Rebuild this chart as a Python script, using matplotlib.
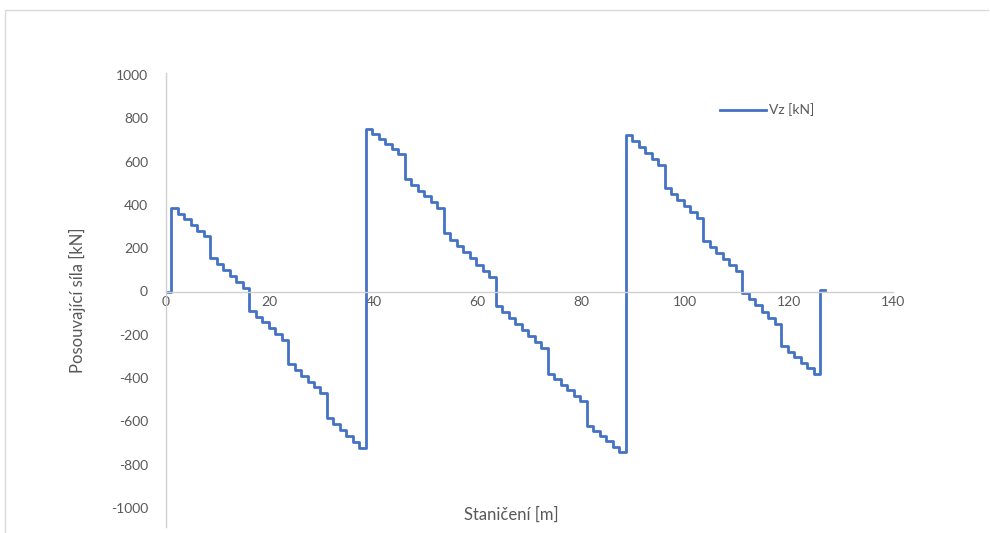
import numpy as np
from matplotlib import pyplot as plt
from matplotlib.lines import Line2D

plt.rcParams['font.family'] = ['Lato', 'DejaVu Sans']
plt.rcParams['axes.unicode_minus'] = False

# stanice [m] a posouvajici sila [kN] (hodnota plati od stanice do dalsi stanice)
stanice = [
    0.0,
    1.0, 2.25, 3.5, 4.75, 6.0, 7.25,
    8.5, 9.75, 11.0, 12.25, 13.5, 14.75,
    16.0, 17.25, 18.5, 19.75, 21.0, 22.25,
    23.5, 24.75, 26.0, 27.25, 28.5, 29.75,
    31.0, 32.25, 33.5, 34.75, 36.0, 37.25,
    38.5, 39.75, 41.0, 42.25, 43.5, 44.75,
    46.0, 47.25, 48.5, 49.75, 51.0, 52.25,
    53.5, 54.75, 56.0, 57.25, 58.5, 59.75, 61.0, 62.25,
    63.5, 64.75, 66.0, 67.25, 68.5, 69.75, 71.0, 72.25,
    73.5, 74.75, 76.0, 77.25, 78.5, 79.75,
    81.0, 82.25, 83.5, 84.75, 86.0, 87.25,
    88.5, 89.75, 91.0, 92.25, 93.5, 94.75,
    96.0, 97.25, 98.5, 99.75, 101.0, 102.25,
    103.5, 104.75, 106.0, 107.25, 108.5, 109.75,
    111.0, 112.25, 113.5, 114.75, 116.0, 117.25,
    118.5, 119.75, 121.0, 122.25, 123.5, 124.75,
    126.0, 127.0,
]
Vz = [
    0,
    386, 360, 334, 307, 281, 255,
    156, 128, 100, 73, 45, 17,
    -91, -117, -143, -170, -196, -222,
    -337, -363, -389, -416, -442, -470,
    -585, -613, -641, -669, -697, -725,
    751, 727, 704, 680, 657, 633,
    520, 493, 466, 440, 413, 386,
    268, 239, 210, 181, 153, 124, 95, 66,
    -66, -94, -121, -149, -177, -205, -232, -260,
    -380, -405, -431, -456, -482, -507,
    -619, -643, -667, -692, -716, -740,
    725, 696, 668, 639, 611, 582,
    479, 451, 423, 396, 368, 340,
    232, 204, 177, 149, 122, 94,
    -6, -35, -64, -94, -123, -152,
    -253, -278, -303, -329, -354, -379,
    5, 5,
]

x_ticks = [0, 20, 40, 60, 80, 100, 120, 140]
y_ticks = [-1000, -800, -600, -400, -200, 0, 200, 400, 600, 800, 1000]

W, H = 990, 533
fig = plt.figure(figsize=(W/100, H/100), dpi=100)
ax = fig.add_axes([166/W, 1-508/H, (893-166)/W, (508-75)/H])

ax.plot(stanice, Vz, drawstyle='steps-post', color='#4472C4', lw=2.0, label='Vz [kN]')

ax.set_xlim(0, 140)
ax.set_ylim(-1000, 1000)
ax.set_xticks(x_ticks)
ax.set_yticks(y_ticks)

for s in ['top', 'right']:
    ax.spines[s].set_visible(False)
ax.spines['left'].set_visible(False)
ax.spines['bottom'].set_position(('data', 0))
ax.spines['bottom'].set_color('#d0d0d0')
ax.spines['bottom'].set_linewidth(1.0)

ax.tick_params(axis='both', length=0, labelsize=10, labelcolor='#595959')
ax.tick_params(axis='y', pad=13)
ax.tick_params(axis='x', pad=3)

# svisla osa (presahuje dolu)
fig.add_artist(Line2D([166/W, 166/W], [1-73/H, 1-527/H], color='#d0d0d0', lw=1.0))
# okraj grafu
fig.add_artist(Line2D([5/W, 5/W, 988/W], [0, 1-10/H, 1-10/H], color='#d9d9d9', lw=1.0))

fig.text(77/W, 1-300/H, 'Posouvající síla [kN]', rotation=90, ha='center', va='center',
         fontsize=12, color='#595959')
fig.text(511/W, 1-515/H, 'Staničení [m]', ha='center', va='center', fontsize=12, color='#595959')

ax.legend(loc='center left', bbox_to_anchor=(720/W, 1-110/H), bbox_transform=fig.transFigure,
          frameon=False, borderpad=0, borderaxespad=0, handlelength=3.3, handletextpad=0.25,
          labelcolor='#595959', fontsize=10)

plt.savefig('out.png', dpi=100)
